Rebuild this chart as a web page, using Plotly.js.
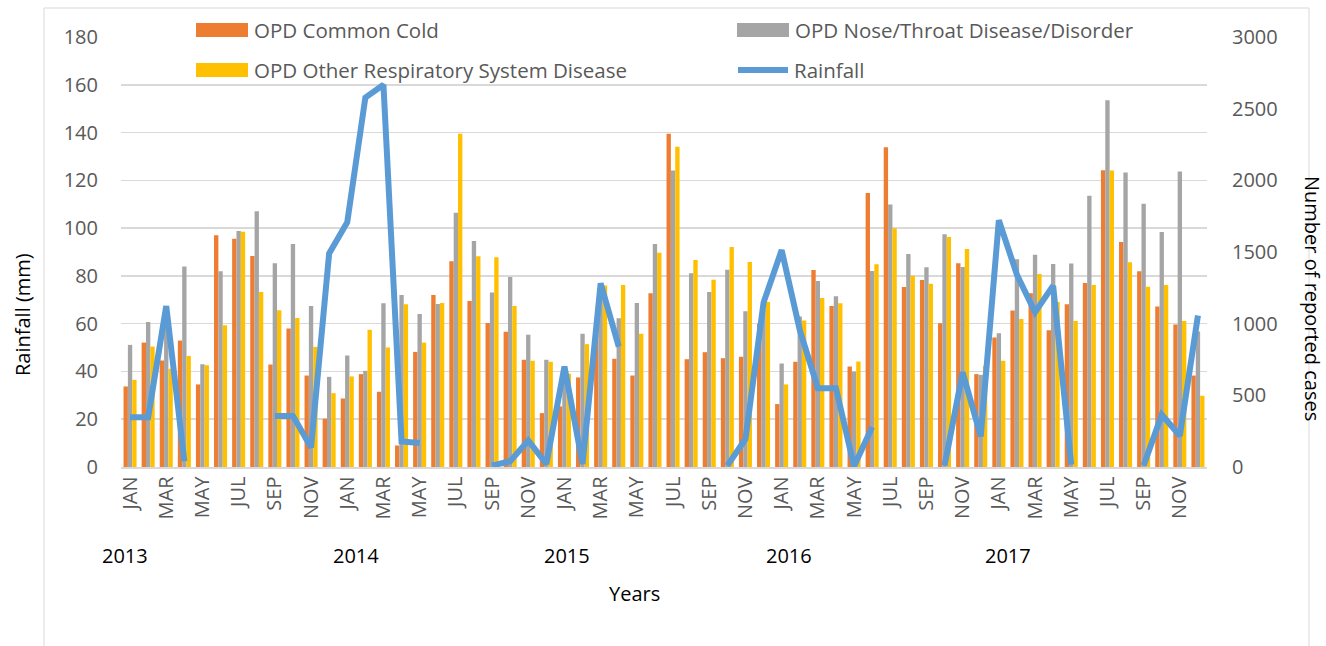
<!DOCTYPE html>
<html>
<head>
<meta charset="utf-8">
<script src="https://cdn.plot.ly/plotly-3.0.1.min.js"></script>
<style>
  html, body { margin: 0; padding: 0; background: #ffffff; }
  #chart { width: 1326px; height: 646px; }
</style>
</head>
<body>
<div id="chart"></div>
<script>
// ---------------- DATA ----------------
const years = ['2013', '2014', '2015', '2016', '2017'];
const monthNames = ['JAN','FEB','MAR','APR','MAY','JUN','JUL','AUG','SEP','OCT','NOV','DEC'];
const tickMonths = ['JAN','MAR','MAY','JUL','SEP','NOV'];

// OPD Common Cold (reported cases, monthly Jan 2013 - Dec 2017)
const commonCold = [
  562, 868, 743, 882, 576, 1616, 1593, 1472, 715, 966, 638, 337,
  478, 648, 525, 150, 803, 1200, 1435, 1159, 1005, 943, 748, 376,
  423, 625, 1020, 755, 638, 1212, 2325, 752, 801, 759, 769, 1000,
  439, 734, 1375, 1124, 701, 1911, 2231, 1256, 1305, 1003, 1421, 648,
  903, 1091, 1212, 954, 1135, 1284, 2071, 1570, 1365, 1119, 994, 638
];
// OPD Nose/Throat Disease/Disorder
const noseThroat = [
  852, 1012, 1080, 1398, 717, 1365, 1646, 1785, 1421, 1556, 1124, 629,
  778, 671, 1142, 1200, 1068, 1138, 1774, 1577, 1217, 1326, 922, 748,
  700, 929, 1240, 1038, 1145, 1556, 2069, 1351, 1221, 1377, 1087, 1100,
  722, 1050, 1298, 1191, 666, 1368, 1832, 1486, 1393, 1623, 1395, 643,
  933, 1450, 1481, 1416, 1419, 1892, 2559, 2055, 1837, 1639, 2062, 946
];
// OPD Other Respiratory System Disease
const otherResp = [
  608, 840, 685, 775, 710, 989, 1641, 1221, 1094, 1040, 838, 515,
  632, 957, 834, 1135, 868, 1145, 2325, 1470, 1463, 1124, 741, 734,
  651, 857, 1267, 1270, 929, 1495, 2234, 1444, 1307, 1535, 1430, 1152,
  576, 1022, 1179, 1142, 736, 1414, 1665, 1335, 1279, 1604, 1521, 706,
  741, 1033, 1347, 1152, 1019, 1270, 2069, 1428, 1258, 1270, 1019, 497
];
// Rainfall (mm); null = no record
const rainfall = [
  20.8, 20.8, 67.4, 2.4, null, null, null, null, 21.4, 21.4, 8.2, 89.4,
  102.5, 154.6, 160, 10.7, 10.0, null, null, null, 0.6, 2.4, 11.1, 1.3,
  42.1, 1.3, 76.9, 50.4, null, null, null, null, null, 0.6, 11.7, 68.8,
  90.8, 57.4, 33, 33, 0.3, 16.7, null, null, null, 0.6, 39.6, 12.8,
  103.3, 80.4, 64.8, 75.9, 1.0, null, null, null, 0.6, 21.9, 13.1, 63.4
];

// ---------------- BUILD ----------------
const categories = [];
years.forEach(y => monthNames.forEach(m => categories.push(m + ' ' + y)));
const xIdx = categories.map((_, i) => i);

const tickVals = [], tickText = [];
categories.forEach((c, i) => {
  const m = c.split(' ')[0];
  if (tickMonths.indexOf(m) >= 0) { tickVals.push(i); tickText.push(m); }
});

const FONT = 'Open Sans, Noto Sans, sans-serif';
const GRAY_TXT = '#595959';

const traces = [
  { type: 'bar', name: 'OPD Common Cold', x: xIdx, y: commonCold, yaxis: 'y',
    marker: { color: '#ED7D31' }, hoverinfo: 'skip' },
  { type: 'bar', name: 'OPD Nose/Throat Disease/Disorder', x: xIdx, y: noseThroat, yaxis: 'y',
    marker: { color: '#A5A5A5' }, hoverinfo: 'skip' },
  { type: 'bar', name: 'OPD Other Respiratory System Disease', x: xIdx, y: otherResp, yaxis: 'y',
    marker: { color: '#FFC000' }, hoverinfo: 'skip' },
  { type: 'scatter', mode: 'lines', name: 'Rainfall', x: xIdx, y: rainfall, yaxis: 'y2',
    connectgaps: false, line: { color: '#5B9BD5', width: 6 }, hoverinfo: 'skip' }
];

// pixel helpers for layout-only placement (plot area 121..1207 x 37..467)
const PL = 121, PR = 1207, PT = 37, PB = 467;
const px = v => (v - PL) / (PR - PL);
const py = v => (PB - v) / (PB - PT);

const annotations = [];
const yearOffsets = [-0.3, 0.5, 0.15, 0.4, 0.5];
years.forEach((y, k) => {
  annotations.push({ xref: 'x', yref: 'paper', x: k * 12 + yearOffsets[k], y: py(555),
    text: y, showarrow: false, xanchor: 'center', yanchor: 'middle',
    font: { family: FONT, size: 20, color: '#000000' } });
});
annotations.push({ xref: 'paper', yref: 'paper', x: px(634), y: py(593), text: 'Years',
  showarrow: false, xanchor: 'center', yanchor: 'middle', font: { family: FONT, size: 20, color: '#000000' } });
annotations.push({ xref: 'paper', yref: 'paper', x: px(22), y: py(315), text: 'Rainfall (mm)',
  textangle: -90, showarrow: false, xanchor: 'center', yanchor: 'middle', font: { family: FONT, size: 20, color: '#000000' } });
annotations.push({ xref: 'paper', yref: 'paper', x: px(1313), y: py(298), text: 'Number of reported cases',
  textangle: 90, showarrow: false, xanchor: 'center', yanchor: 'middle', font: { family: FONT, size: 20, color: '#000000' } });

// manual legend
const legendItems = [
  { name: traces[0].name, color: '#ED7D31', kind: 'rect', x: 196, y: 30 },
  { name: traces[1].name, color: '#A5A5A5', kind: 'rect', x: 737, y: 30 },
  { name: traces[2].name, color: '#FFC000', kind: 'rect', x: 196, y: 70 },
  { name: traces[3].name, color: '#5B9BD5', kind: 'line', x: 736, y: 70 }
];
const shapes = [];
legendItems.forEach(it => {
  if (it.kind === 'rect') {
    shapes.push({ type: 'rect', xref: 'paper', yref: 'paper', x0: px(it.x), x1: px(it.x + 52),
      y0: py(it.y - 7), y1: py(it.y + 7), fillcolor: it.color, line: { width: 0 } });
  } else {
    shapes.push({ type: 'line', xref: 'paper', yref: 'paper', x0: px(it.x + 2), x1: px(it.x + 52),
      y0: py(it.y), y1: py(it.y), line: { color: it.color, width: 6 } });
  }
  annotations.push({ xref: 'paper', yref: 'paper', x: px(it.x + 56), y: py(it.y), text: it.name,
    showarrow: false, xanchor: 'left', yanchor: 'middle', font: { family: FONT, size: 20.5, color: GRAY_TXT } });
});
// outer chart border
shapes.push({ type: 'rect', xref: 'paper', yref: 'paper', x0: px(44), x1: px(1309), y0: py(660), y1: py(8),
  line: { color: '#d9d9d9', width: 1 }, fillcolor: 'rgba(0,0,0,0)', layer: 'below' });

const layout = {
  width: 1326, height: 646,
  margin: { l: PL, r: 1326 - PR, t: PT, b: 646 - PB, pad: 0 },
  paper_bgcolor: '#ffffff', plot_bgcolor: '#ffffff',
  showlegend: false,
  barmode: 'group', bargap: 0.28, bargroupgap: 0,
  font: { family: FONT, color: GRAY_TXT },
  xaxis: {
    range: [-0.5, 59.5], tickmode: 'array', tickvals: tickVals, ticktext: tickText,
    tickangle: -90, tickfont: { family: FONT, size: 20, color: GRAY_TXT },
    showgrid: false, zeroline: false, showline: true, linecolor: '#d9d9d9', linewidth: 1.5, ticks: ''
  },
  yaxis: {
    side: 'right', range: [0, 3000], dtick: 500, tick0: 0, showgrid: false, zeroline: false,
    tickfont: { family: FONT, size: 20, color: GRAY_TXT }, ticks: '', ticklabelstandoff: 24
  },
  yaxis2: {
    side: 'left', overlaying: 'y', range: [0, 180], dtick: 20, tick0: 0,
    showgrid: true, gridcolor: '#d9d9d9', gridwidth: 1.5, zeroline: false,
    tickfont: { family: FONT, size: 20, color: GRAY_TXT }, ticks: '', ticklabelstandoff: 22
  },
  annotations: annotations,
  shapes: shapes
};

Plotly.newPlot('chart', traces, layout, { displayModeBar: false, staticPlot: true });
</script>
</body>
</html>
